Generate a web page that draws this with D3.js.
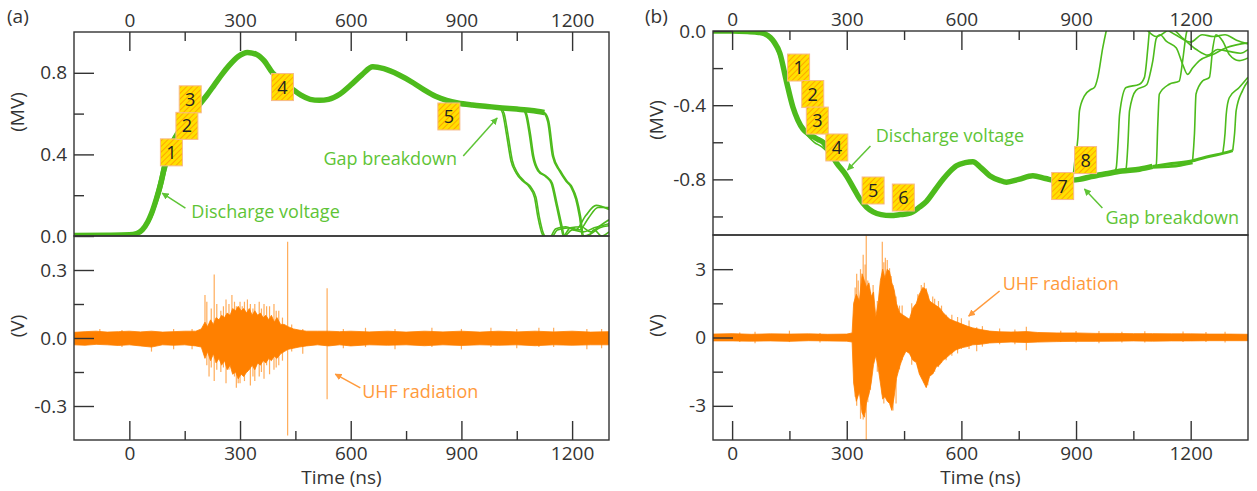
<!DOCTYPE html>
<html><head><meta charset="utf-8">
<script src="https://cdn.jsdelivr.net/npm/d3@7"></script>
<style>
body{margin:0;background:#fff;}
svg{font-family:"Open Sans",sans-serif;}
</style></head><body>
<svg id="c" width="1257" height="491"></svg>
<script>
// ---------------- DATA ----------------
// Panel (a)
const timeTicksA = [0, 300, 600, 900, 1200];
const timeMinorA = [150, 450, 750, 1050];
const voltTicksA = [0, 0.4, 0.8];
const voltTickLabelsA = ["0.0", "0.4", "0.8"];
const voltMinorA = [0.2, 0.6];
const uhfTicksA = [-0.3, 0, 0.3];
const uhfTickLabelsA = ["-0.3", "0.0", "0.3"];
const uhfMinorA = [-0.15, 0.15];

const voltBodyA = [[-150,0.003],[-60,0.004],[0,0.006],[20,0.012],[35,0.03],[50,0.07],[60,0.11],[73,0.18],[87,0.27],[100,0.38],[115,0.45],[130,0.5],[150,0.55],[170,0.6],[190,0.645],[210,0.69],[230,0.74],[250,0.79],[270,0.835],[295,0.88],[320,0.9],[345,0.89],[365,0.86],[388,0.80],[415,0.76],[442,0.72],[465,0.69],[490,0.67],[515,0.665],[540,0.67],[570,0.695],[600,0.74],[630,0.79],[660,0.83],[690,0.82],[730,0.79],[770,0.75],[800,0.715],[830,0.685],[860,0.665],[890,0.652],[930,0.642],[970,0.635],[1010,0.628],[1050,0.622],[1090,0.615],[1125,0.605]];
const voltRiseA2 = [[10,0.008],[25,0.018],[40,0.045],[52,0.09],[64,0.15],[76,0.23],[88,0.32],[100,0.41],[115,0.47],[135,0.52],[160,0.58]];
const voltRiseA3 = [[30,0.02],[45,0.045],[60,0.09],[72,0.15],[85,0.22],[97,0.31],[110,0.39],[125,0.46],[145,0.53],[170,0.6]];
const breakA1 = [[1005,0.627],[1012,0.60],[1022,0.5],[1034,0.37],[1048,0.31],[1066,0.27],[1084,0.24],[1098,0.19],[1107,0.095],[1120,0.005],[1135,-0.02],[1156,0.035],[1183,0.045],[1210,0.03],[1237,0.1],[1265,0.15],[1300,0.13]];
const breakA2 = [[1009,0.627],[1016,0.60],[1026,0.5],[1038,0.37],[1052,0.31],[1070,0.27],[1088,0.24],[1102,0.19],[1111,0.095],[1124,0.005],[1140,-0.02],[1160,0.03],[1190,0.04],[1220,0.03],[1245,0.09],[1270,0.14],[1300,0.14]];
const breakA3 = [[1070,0.617],[1075,0.59],[1084,0.5],[1093,0.39],[1107,0.32],[1129,0.29],[1143,0.26],[1156,0.16],[1170,0.045],[1176,0.0],[1195,0.04],[1225,0.045],[1250,0.02],[1275,0.05],[1300,0.08]];
const breakA4 = [[1073,0.616],[1078,0.59],[1087,0.5],[1096,0.39],[1110,0.32],[1132,0.29],[1146,0.26],[1159,0.16],[1173,0.045],[1179,0.0],[1200,0.03],[1230,0.02],[1260,0.04],[1300,0.06]];
const breakA5 = [[1120,0.606],[1125,0.6],[1134,0.56],[1147,0.39],[1165,0.32],[1183,0.27],[1197,0.24],[1210,0.18],[1220,0.095],[1228,0.0],[1240,-0.01],[1260,0.03],[1280,0.0],[1300,0.02]];
const breakA6 = [[1123,0.605],[1128,0.6],[1137,0.56],[1150,0.39],[1168,0.32],[1186,0.27],[1200,0.24],[1213,0.18],[1223,0.095],[1231,0.0],[1250,0.01],[1275,0.04],[1300,0.05]];
const breaksA = [breakA1, breakA2, breakA3, breakA4, breakA5, breakA6, voltRiseA2, voltRiseA3];

// UHF envelope [t, upper, lower] and spikes [t, top, bottom]
const uhfEnvA = [[-150,0.025,-0.03],[-120,0.028,-0.032],[-90,0.03,-0.028],[-60,0.026,-0.03],[-30,0.028,-0.033],[0,0.03,-0.03],[30,0.027,-0.035],[60,0.03,-0.04],[90,0.026,-0.03],[120,0.028,-0.032],[150,0.03,-0.03],[180,0.03,-0.035],[195,0.04,-0.04],[205,0.07,-0.09],[212,0.05,-0.06],[220,0.08,-0.1],[228,0.06,-0.07],[235,0.09,-0.11],[243,0.08,-0.09],[250,0.1,-0.12],[258,0.09,-0.1],[265,0.11,-0.14],[273,0.1,-0.12],[280,0.13,-0.16],[288,0.12,-0.15],[295,0.14,-0.18],[303,0.12,-0.16],[310,0.13,-0.17],[318,0.11,-0.15],[325,0.13,-0.14],[333,0.1,-0.12],[340,0.12,-0.14],[348,0.1,-0.11],[355,0.11,-0.12],[363,0.09,-0.1],[370,0.1,-0.11],[378,0.08,-0.09],[385,0.1,-0.1],[393,0.07,-0.08],[400,0.09,-0.09],[410,0.06,-0.07],[420,0.06,-0.06],[430,0.05,-0.05],[445,0.04,-0.045],[460,0.035,-0.04],[480,0.03,-0.035],[510,0.03,-0.03],[540,0.03,-0.035],[570,0.028,-0.03],[600,0.03,-0.035],[650,0.027,-0.03],[700,0.03,-0.032],[750,0.026,-0.03],[800,0.03,-0.034],[850,0.027,-0.03],[900,0.03,-0.033],[950,0.026,-0.03],[1000,0.03,-0.032],[1050,0.027,-0.03],[1100,0.03,-0.034],[1150,0.027,-0.03],[1200,0.03,-0.032],[1250,0.026,-0.03],[1300,0.028,-0.03]];
const uhfSpikesA = [[205,0.19,0],[210,0.16,-0.12],[216,0,-0.17],[230,0.28,-0.19],[237,0.15,-0.14],[248,0.12,-0.15],[262,0.17,-0.2],[270,0.15,-0.14],[278,0.19,0],[290,0.14,-0.22],[300,0.16,-0.2],[312,0.16,-0.19],[328,0.15,-0.21],[340,0.15,-0.19],[352,0.16,-0.17],[365,0.15,-0.18],[380,0.14,-0.16],[392,0.15,-0.14],[405,0.12,-0.12],[429,0.425,-0.43],[440,0.06,-0.06],[536,0.22,-0.27],[470,0.04,-0.07],[-80,0.04,-0.02],[60,0.02,-0.06],[120,0.04,-0.05],[640,0.045,-0.04],[720,0.04,-0.05],[820,0.045,-0.04],[900,0.04,-0.05],[980,0.045,-0.04],[1050,0.04,-0.045],[1150,0.045,-0.04],[1240,0.04,-0.05],[222,0.13,-0.13],[255,0.14,-0.13],[285,0.16,-0.17],[295,0.12,-0.2],[306,0.14,-0.16],[320,0.17,-0.15],[335,0.13,-0.17],[358,0.13,-0.15],[372,0.14,-0.12],[398,0.12,-0.13],[415,0.09,-0.1],[-20,0.035,-0.04],[170,0.04,-0.05],[580,0.04,-0.045],[1110,0.045,-0.04],[1280,0.04,-0.045]];

// Panel (b)
const timeTicksB = [0, 300, 600, 900, 1200];
const timeMinorB = [150, 450, 750, 1050];
const voltTicksB = [0, -0.4, -0.8];
const voltTickLabelsB = ["0.0", "-0.4", "-0.8"];
const voltMinorB = [-0.2, -0.6, -1.0];
const uhfTicksB = [-3, 0, 3];
const uhfTickLabelsB = ["-3", "0", "3"];
const uhfMinorB = [-1.5, 1.5];

const voltBodyB = [[-50,0],[0,0],[40,-0.003],[70,-0.008],[85,-0.015],[100,-0.035],[110,-0.06],[125,-0.12],[142,-0.27],[159,-0.41],[172,-0.48],[186,-0.53],[200,-0.555],[212,-0.57],[225,-0.585],[238,-0.60],[255,-0.65],[273,-0.71],[299,-0.78],[320,-0.855],[334,-0.905],[352,-0.95],[369,-0.975],[390,-0.99],[415,-0.995],[440,-0.99],[460,-0.985],[473,-0.975],[490,-0.95],[508,-0.92],[530,-0.86],[552,-0.80],[569,-0.76],[587,-0.727],[610,-0.71],[630,-0.705],[650,-0.735],[674,-0.78],[700,-0.805],[718,-0.815],[750,-0.80],[787,-0.78],[820,-0.795],[848,-0.807],[880,-0.805],[909,-0.80],[940,-0.785],[979,-0.77],[1020,-0.755],[1066,-0.745],[1100,-0.73]];
const voltRiseB2 = [[95,-0.03],[115,-0.09],[135,-0.22],[155,-0.4],[175,-0.5],[195,-0.56],[215,-0.6],[235,-0.625],[255,-0.665],[280,-0.72],[300,-0.77]];
const voltTailB1 = [[1100,-0.73],[1150,-0.715],[1205,-0.70],[1250,-0.675],[1284,-0.66],[1310,-0.645]];
const voltTailB2 = [[1100,-0.735],[1150,-0.73],[1205,-0.71]];
const breakB1 = [[879,-0.805],[891,-0.79],[898,-0.68],[905,-0.573],[909,-0.43],[922,-0.35],[940,-0.314],[948,-0.305],[957,-0.25],[970,-0.09],[979,0.0],[985,0.05]];
const breakB2 = [[998,-0.765],[1005,-0.74],[1010,-0.6],[1014,-0.448],[1031,-0.305],[1066,-0.287],[1079,-0.25],[1088,-0.09],[1092,0],[1098,0.05]];
const breakB3 = [[1025,-0.757],[1031,-0.74],[1036,-0.6],[1040,-0.43],[1057,-0.32],[1085,-0.29],[1095,-0.22],[1101,-0.16],[1110,-0.04],[1120,-0.02],[1136,-0.055],[1162,-0.09],[1179,-0.18],[1192,-0.234],[1205,-0.2],[1223,-0.16],[1258,-0.127],[1293,-0.09],[1350,-0.064]];
const breakB4 = [[1105,-0.73],[1110,-0.72],[1114,-0.5],[1118,-0.34],[1144,-0.287],[1170,-0.27],[1179,-0.16],[1188,-0.02],[1194,0.03]];
const breakB5 = [[1205,-0.70],[1210,-0.55],[1214,-0.34],[1231,-0.27],[1249,-0.25],[1258,-0.09],[1266,-0.02],[1284,-0.055],[1301,-0.127],[1327,-0.16],[1350,-0.145]];
const breakB6 = [[1284,-0.66],[1290,-0.55],[1293,-0.45],[1301,-0.36],[1327,-0.305],[1350,-0.25]];
const breakB7 = [[1310,-0.645],[1315,-0.55],[1319,-0.43],[1336,-0.32],[1350,-0.27]];
const breakB8 = [[1080,0.02],[1110,-0.03],[1150,0.01],[1180,-0.04],[1215,-0.1],[1245,-0.13],[1270,-0.1],[1300,-0.11],[1330,-0.12],[1350,-0.1]];
const breakB9 = [[1120,0.03],[1160,-0.02],[1200,-0.06],[1230,-0.02],[1260,-0.03],[1290,-0.02],[1320,-0.05],[1350,-0.07]];
const breaksB = [breakB1, breakB2, breakB3, breakB4, breakB5, breakB6, breakB7, breakB8, breakB9, voltRiseB2];

const uhfEnvB = [[-50,0.15,-0.15],[0,0.17,-0.15],[50,0.14,-0.16],[100,0.16,-0.15],[150,0.15,-0.17],[200,0.16,-0.14],[250,0.14,-0.15],[300,0.15,-0.16],[314,0.2,-0.2],[318,1.5,-2.0],[325,1.9,-2.8],[333,1.6,-2.4],[340,2.8,-3.3],[346,2.5,-3.5],[352,2.2,-2.8],[358,2.4,-2.5],[364,1.8,-2.0],[370,2.0,-1.2],[376,0.9,-0.8],[382,1.5,-1.3],[388,2.5,-2.0],[394,3.0,-2.7],[400,2.6,-2.6],[406,3.0,-2.8],[412,2.9,-2.9],[418,2.4,-3.2],[424,2.1,-2.6],[430,1.5,-1.8],[438,1.1,-1.3],[446,1.0,-0.9],[455,0.9,-0.6],[464,0.8,-0.7],[473,1.3,-1.0],[482,1.5,-1.1],[490,1.9,-1.6],[499,2.2,-1.9],[508,2.1,-2.2],[517,1.6,-1.7],[525,1.5,-1.6],[534,1.4,-1.3],[543,1.3,-1.2],[552,1.1,-1.0],[560,0.95,-0.9],[570,0.8,-0.75],[585,0.7,-0.55],[600,0.6,-0.45],[615,0.5,-0.4],[630,0.42,-0.32],[650,0.35,-0.3],[674,0.28,-0.24],[700,0.25,-0.22],[730,0.24,-0.2],[770,0.26,-0.22],[800,0.22,-0.2],[850,0.2,-0.18],[900,0.2,-0.17],[950,0.18,-0.17],[1000,0.18,-0.16],[1050,0.17,-0.15],[1100,0.17,-0.16],[1150,0.16,-0.15],[1200,0.16,-0.15],[1250,0.15,-0.14],[1300,0.15,-0.14],[1350,0.14,-0.14]];
const uhfSpikesB = [[351,4.5,-4.5],[343,3.63,-3.6],[393,4.2,-2.5],[326,2.8,-3.0],[336,3.0,-3.57],[355,2.5,-2.84],[369,2.3,-1.08],[401,3.5,-2.4],[412,3.04,-2.84],[421,2.3,-3.2],[429,1.8,-2.9],[438,1.4,-1.4],[495,2.3,-1.5],[508,2.16,-2.18],[517,1.6,-1.6],[525,1.8,-1.6],[540,1.6,-1.3],[560,1.0,-1.0],[600,0.85,-0.5],[620,0.75,-0.5],[640,0.45,-0.6],[770,0.47,-0.56],[860,0.3,-0.2],[960,0.28,-0.25],[1080,0.27,-0.22],[1180,0.26,-0.2],[1290,0.25,-0.22],[150,0.3,-0.2],[60,0.25,-0.25],[322,2.2,-2.6],[330,2.5,-2.0],[348,3.2,-3.3],[362,2.0,-2.3],[380,1.6,-1.5],[397,3.3,-2.9],[406,3.4,-2.6],[416,2.7,-3.0],[445,1.4,-1.0],[470,1.5,-1.2],[486,1.9,-1.3],[503,2.4,-2.0],[512,1.9,-2.1],[530,1.7,-1.5],[548,1.4,-1.1],[575,1.0,-0.8],[590,0.9,-0.7],[655,0.5,-0.4],[700,0.4,-0.3],[740,0.35,-0.3],[20,0.22,-0.2],[230,0.2,-0.22],[900,0.28,-0.22],[1020,0.25,-0.22],[1240,0.24,-0.2]];

// Numbered markers [label, t, V]
const markersA = [["1",114,0.41],["2",156,0.54],["3",165,0.67],["4",415,0.73],["5",866,0.586]];
const markersB = [["1",174,-0.197],["2",211,-0.34],["3",223,-0.483],["4",274,-0.628],["5",369,-0.86],["6",448,-0.898],["7",865,-0.836],["8",925,-0.696]];

// Annotations
const notesA = [
  {text:"Discharge voltage", t:168, v:0.088, a:[152,0.137,89,0.21], panel:"v"},
  {text:"Gap breakdown", t:526, v:0.348, a:[905,0.392,997,0.578], panel:"v"},
  {text:"UHF radiation", t:631, v:-0.265, a:[626,-0.22,558,-0.159], panel:"u"}
];
const notesB = [
  {text:"Discharge voltage", t:376, v:-0.599, a:[362,-0.62,302,-0.75], panel:"v"},
  {text:"Gap breakdown", t:977, v:-1.04, a:[969,-0.954,922,-0.852], panel:"v"},
  {text:"UHF radiation", t:708, v:2.09, a:[700,2.04,619,0.94], panel:"u"}
];

// ---------------- DRAWING ----------------
const GREEN = "#4DBB1C", GREEN_TXT = "#5EC436", ORANGE = "#FF8000", ORANGE_TXT = "#FF9A3C", AX = "#333";
const svg = d3.select("#c");
const defs = svg.append("defs");
const pat = defs.append("pattern").attr("id","hatch").attr("width",4).attr("height",4)
  .attr("patternUnits","userSpaceOnUse").attr("patternTransform","rotate(45)");
pat.append("rect").attr("width",4).attr("height",4).attr("fill","#FFE000");
pat.append("line").attr("x1",0).attr("y1",0).attr("x2",0).attr("y2",4).attr("stroke","#FFA200").attr("stroke-width",1.8);
["g","o"].forEach(k=>{
  const m = defs.append("marker").attr("id","arr"+k).attr("viewBox","0 0 10 10").attr("refX",9).attr("refY",5)
    .attr("markerWidth",7).attr("markerHeight",7).attr("orient","auto-start-reverse").attr("markerUnits","userSpaceOnUse");
  m.append("path").attr("d","M0,0L10,5L0,10z").attr("fill", k==="g"?GREEN_TXT:ORANGE_TXT);
});

function panel(cfg){
  const x = d3.scaleLinear().domain(cfg.tDom).range([cfg.x0, cfg.x1]);
  const yV = d3.scaleLinear().domain(cfg.vDom).range([cfg.yMid, cfg.yTop]);
  const yU = d3.scaleLinear().domain(cfg.uDom).range([cfg.yBot, cfg.yMid]);
  const id = cfg.id;
  defs.append("clipPath").attr("id","cv"+id).append("rect")
    .attr("x",cfg.x0).attr("y",cfg.yTop).attr("width",cfg.x1-cfg.x0).attr("height",cfg.yMid-cfg.yTop);
  defs.append("clipPath").attr("id","cu"+id).append("rect")
    .attr("x",cfg.x0).attr("y",cfg.yMid).attr("width",cfg.x1-cfg.x0).attr("height",cfg.yBot-cfg.yMid);

  // UHF
  const gu = svg.append("g").attr("clip-path","url(#cu"+id+")");
  gu.selectAll("line.sp").data(cfg.spikes).join("line")
    .attr("x1",d=>x(d[0])).attr("x2",d=>x(d[0])).attr("y1",d=>yU(d[1])).attr("y2",d=>yU(d[2]))
    .attr("stroke",ORANGE).attr("stroke-opacity",0.65).attr("stroke-width",1.2);
  gu.append("path").datum(cfg.env)
    .attr("d", d3.area().x(d=>x(d[0])).y0(d=>yU(d[2])).y1(d=>yU(d[1])))
    .attr("fill",ORANGE).attr("stroke",ORANGE).attr("stroke-width",0.8);

  // Voltage
  const gv = svg.append("g").attr("clip-path","url(#cv"+id+")");
  const line = d3.line().x(d=>x(d[0])).y(d=>yV(d[1])).curve(d3.curveMonotoneX);
  gv.selectAll("path.br").data(cfg.breaks).join("path").attr("d",line)
    .attr("fill","none").attr("stroke",GREEN).attr("stroke-width",1.6);
  cfg.tails.forEach(tl=>gv.append("path").attr("d",line(tl)).attr("fill","none").attr("stroke",GREEN).attr("stroke-width",3));
  gv.append("path").attr("d",line(cfg.body)).attr("fill","none").attr("stroke",GREEN).attr("stroke-width",5.5).attr("stroke-linejoin","round");

  // frames
  [[cfg.yTop,cfg.yMid],[cfg.yMid,cfg.yBot]].forEach(([a,b])=>{
    svg.append("rect").attr("x",cfg.x0).attr("y",a).attr("width",cfg.x1-cfg.x0).attr("height",b-a)
      .attr("fill","none").attr("stroke",AX).attr("stroke-width",1.4);
  });

  // axes
  function style(g, fs){
    g.select(".domain").remove();
    g.selectAll(".tick line").attr("stroke",AX).attr("stroke-width",1.4);
    g.selectAll(".tick text").attr("fill",AX).style("font-size",fs+"px").style("font-family","'Open Sans',sans-serif");
  }
  const fmtT = d=>String(d);
  let g;
  g = svg.append("g").attr("transform",`translate(0,${cfg.yTop})`)
    .call(d3.axisTop(x).tickValues(cfg.tTicks).tickFormat(fmtT).tickSizeInner(-19).tickSizeOuter(0).tickPadding(5)); style(g,19);
  g = svg.append("g").attr("transform",`translate(0,${cfg.yTop})`)
    .call(d3.axisTop(x).tickValues(cfg.tMinor).tickFormat("").tickSizeInner(-9).tickSizeOuter(0)); style(g,19);
  g = svg.append("g").attr("transform",`translate(0,${cfg.yBot})`)
    .call(d3.axisBottom(x).tickValues(cfg.tTicks).tickFormat(fmtT).tickSizeInner(-19).tickSizeOuter(0).tickPadding(6)); style(g,19);
  g = svg.append("g").attr("transform",`translate(0,${cfg.yBot})`)
    .call(d3.axisBottom(x).tickValues(cfg.tMinor).tickFormat("").tickSizeInner(-9).tickSizeOuter(0)); style(g,19);
  g = svg.append("g").attr("transform",`translate(${cfg.x0},0)`)
    .call(d3.axisLeft(yV).tickValues(cfg.vTicks).tickFormat((d,i)=>cfg.vLabels[i]).tickSizeInner(-20).tickSizeOuter(0).tickPadding(7)); style(g,19);
  g = svg.append("g").attr("transform",`translate(${cfg.x0},0)`)
    .call(d3.axisLeft(yV).tickValues(cfg.vMinor).tickFormat("").tickSizeInner(-10).tickSizeOuter(0)); style(g,19);
  g = svg.append("g").attr("transform",`translate(${cfg.x0},0)`)
    .call(d3.axisLeft(yU).tickValues(cfg.uTicks).tickFormat((d,i)=>cfg.uLabels[i]).tickSizeInner(-20).tickSizeOuter(0).tickPadding(7)); style(g,19);
  g = svg.append("g").attr("transform",`translate(${cfg.x0},0)`)
    .call(d3.axisLeft(yU).tickValues(cfg.uMinor).tickFormat("").tickSizeInner(-10).tickSizeOuter(0)); style(g,19);

  // titles
  svg.append("text").attr("x",cfg.labX).attr("y",23).text(cfg.label).attr("fill",AX).style("font-size","19px");
  svg.append("text").attr("transform",`translate(${cfg.yLabX},${(cfg.yTop+cfg.yMid)/2 + cfg.mvOff}) rotate(-90)`)
    .attr("text-anchor","middle").attr("dy","0.35em").text("(MV)").attr("fill",AX).style("font-size","19px");
  svg.append("text").attr("transform",`translate(${cfg.yLabX},${(cfg.yMid+cfg.yBot)/2 - 12}) rotate(-90)`)
    .attr("text-anchor","middle").attr("dy","0.35em").text("(V)").attr("fill",AX).style("font-size","19px");
  svg.append("text").attr("x",(cfg.x0+cfg.x1)/2).attr("y",484).attr("text-anchor","middle")
    .text("Time (ns)").attr("fill",AX).style("font-size","19px");

  // annotations
  cfg.notes.forEach(n=>{
    const ys = n.panel==="v"? yV : yU;
    const col = n.panel==="v"? GREEN_TXT : ORANGE_TXT;
    svg.append("text").attr("x",x(n.t)).attr("y",ys(n.v)).text(n.text).attr("fill",col).style("font-size","18px");
    svg.append("line").attr("x1",x(n.a[0])).attr("y1",ys(n.a[1])).attr("x2",x(n.a[2])).attr("y2",ys(n.a[3]))
      .attr("stroke",col).attr("stroke-width",1.5).attr("marker-end","url(#arr"+(n.panel==="v"?"g":"o")+")");
  });

  // numbered markers
  const mg = svg.append("g").selectAll("g").data(cfg.markers).join("g")
    .attr("transform",d=>`translate(${x(d[1])},${yV(d[2])})`);
  mg.append("rect").attr("x",-11).attr("y",-13.5).attr("width",22).attr("height",27)
    .attr("fill","url(#hatch)").attr("stroke","#F7B98A").attr("stroke-width",1);
  mg.append("text").attr("text-anchor","middle").attr("dy","0.36em").text(d=>d[0])
    .attr("fill","#222").style("font-size","18px");
}

panel({id:"a", x0:74, x1:609, yTop:32, yMid:236, yBot:440, tDom:[-150,1300], vDom:[0,1.0], uDom:[-0.45,0.45],
  tTicks:timeTicksA, tMinor:timeMinorA, vTicks:voltTicksA, vLabels:voltTickLabelsA, vMinor:voltMinorA,
  uTicks:uhfTicksA, uLabels:uhfTickLabelsA, uMinor:uhfMinorA,
  body:voltBodyA, tails:[], breaks:breaksA, env:uhfEnvA, spikes:uhfSpikesA,
  markers:markersA, notes:notesA, label:"(a)", labX:7, yLabX:17, mvOff:-22});
panel({id:"b", x0:713, x1:1248, yTop:31, yMid:235, yBot:440, tDom:[-50,1350], vDom:[-1.1,0], uDom:[-4.5,4.5],
  tTicks:timeTicksB, tMinor:timeMinorB, vTicks:voltTicksB, vLabels:voltTickLabelsB, vMinor:voltMinorB,
  uTicks:uhfTicksB, uLabels:uhfTickLabelsB, uMinor:uhfMinorB,
  body:voltBodyB, tails:[voltTailB1, voltTailB2], breaks:breaksB, env:uhfEnvB, spikes:uhfSpikesB,
  markers:markersB, notes:notesB, label:"(b)", labX:645, yLabX:656, mvOff:-13});
</script>
</body></html>
